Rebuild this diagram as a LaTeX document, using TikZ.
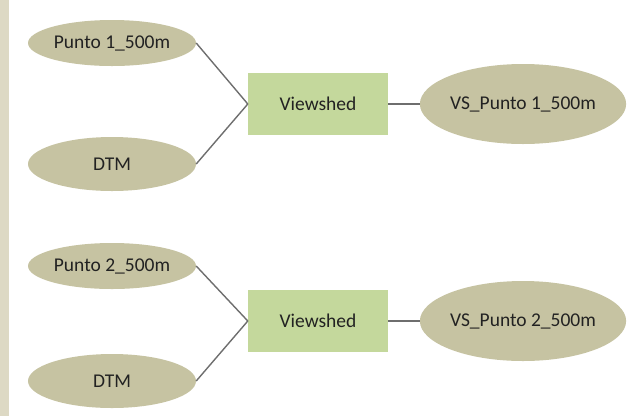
\documentclass[tikz,border=0pt]{standalone}
\usepackage{fontspec}
\setmainfont{Carlito}
\usetikzlibrary{shapes.geometric}
\definecolor{ellfill}{HTML}{C6C3A2}
\definecolor{boxfill}{HTML}{C4D89C}
\definecolor{barfill}{HTML}{DDD9C4}
\definecolor{linegray}{HTML}{6E6E6E}
\definecolor{txtdark}{HTML}{222222}

\begin{document}
\begin{tikzpicture}[x=1pt,y=-1pt,
	inp/.style={ellipse,fill=ellfill,inner sep=0pt,minimum width=168pt,minimum height=46pt,text=txtdark,font=\fontsize{19.5}{22}\selectfont},
	dtm/.style={inp,minimum height=54pt},
	outp/.style={inp,minimum width=196pt,minimum height=80pt},
	tool/.style={rectangle,fill=boxfill,inner sep=0pt,minimum width=140pt,minimum height=62pt,text=txtdark,font=\fontsize{19.5}{22}\selectfont},
	link/.style={draw=linegray,line width=1.4pt}]
		\useasboundingbox (0,0) rectangle (628,416);
		\fill[barfill] (0,0) rectangle (9,416);
		% first group
		\node[inp] (P1) at (112,43) {Punto 1\_500m};
		\node[dtm] (D1) at (112,164) {DTM};
		\node[tool] (V1) at (318,104) {Viewshed};
		\node[outp] (O1) at (523,104) {VS\_Punto 1\_500m};
		\draw[link] (P1.east)--(V1.west);
		\draw[link] (D1.east)--(V1.west);
		\draw[link] (V1.east)--(O1.west);
		% second group
		\node[inp] (P2) at (112,266) {Punto 2\_500m};
		\node[dtm] (D2) at (112,381) {DTM};
		\node[tool] (V2) at (318,321) {Viewshed};
		\node[outp] (O2) at (523,321) {VS\_Punto 2\_500m};
		\draw[link] (P2.east)--(V2.west);
		\draw[link] (D2.east)--(V2.west);
		\draw[link] (V2.east)--(O2.west);
	\end{tikzpicture}
\end{document}
